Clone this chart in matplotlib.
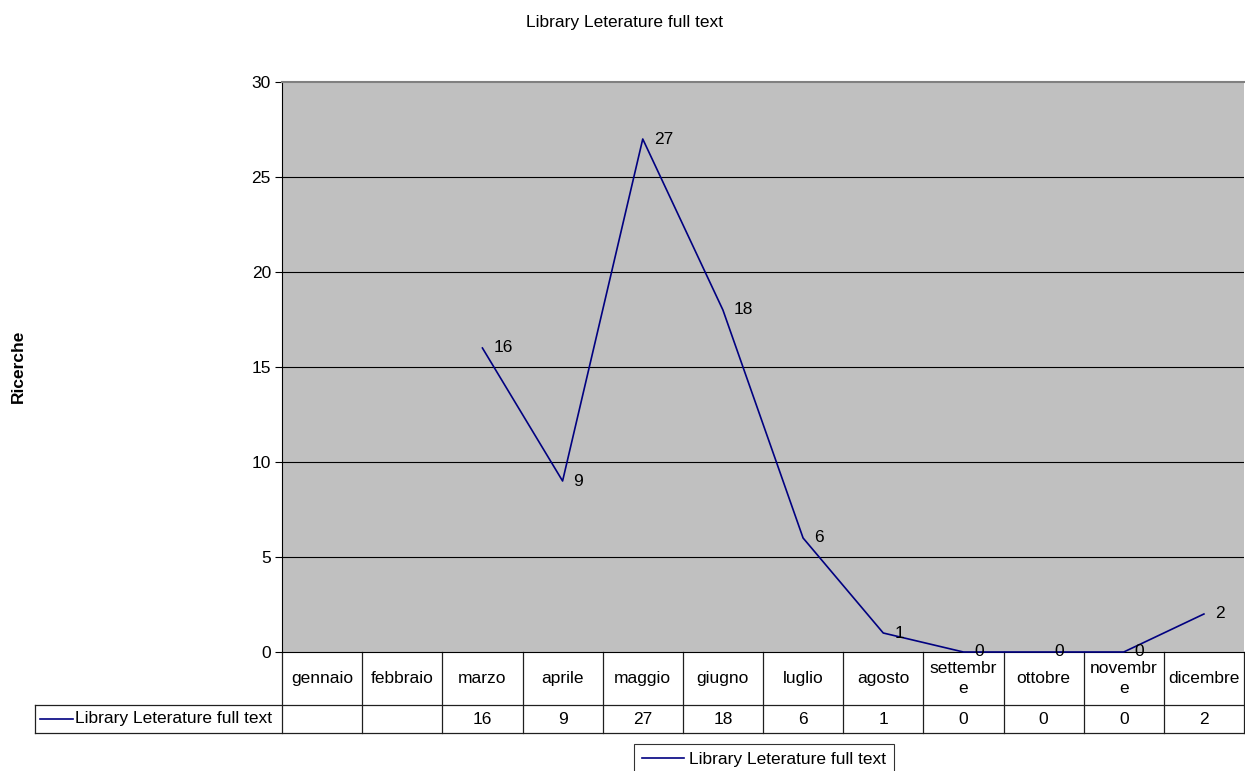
import matplotlib.pyplot as plt
import matplotlib.transforms as mtrans
from matplotlib.lines import Line2D
import numpy as np

plt.rcParams['font.family'] = ['Liberation Sans', 'DejaVu Sans']

# dati
mesi = ["gennaio", "febbraio", "marzo", "aprile", "maggio", "giugno",
        "luglio", "agosto", "settembre", "ottobre", "novembre", "dicembre"]
mesi_etichette = ["gennaio", "febbraio", "marzo", "aprile", "maggio", "giugno",
                  "luglio", "agosto", "settembr\ne", "ottobre", "novembr\ne", "dicembre"]
ricerche = [None, None, 16, 9, 27, 18, 6, 1, 0, 0, 0, 2]
serie = "Library Leterature full text"
titolo = "Library Leterature full text"
y_ticks = [0, 5, 10, 15, 20, 25, 30]

blu = "#000080"
grigio = "#C0C0C0"
fs = 12.5

fig = plt.figure(figsize=(12.45, 7.71), dpi=100)
ax = fig.add_axes([282/1245, 1-652/771, (1244-282)/1245, 570/771])
ax.set_facecolor(grigio)

x = np.arange(len(mesi))
y = np.array([np.nan if v is None else v for v in ricerche], dtype=float)
ax.plot(x, y, color=blu, lw=1.2, clip_on=False, zorder=3)

# etichette dei punti
for xi, v in zip(x, ricerche):
    if v is None:
        continue
    ax.annotate(str(v), (xi, v), xytext=(11, 0), textcoords="offset pixels",
                ha="left", va="center", fontsize=fs, annotation_clip=False, zorder=4)

ax.set_xlim(-0.5, len(mesi) - 0.5)
ax.set_ylim(0, 30)
ax.set_yticks(y_ticks)
ax.set_xticks([])
ax.tick_params(axis="y", direction="out", length=5, width=0.8, labelsize=fs, pad=3)
for yt in y_ticks[1:-1]:
    ax.axhline(yt, color="black", lw=0.8, zorder=1)
ax.spines["top"].set_color("#808080")
ax.spines["top"].set_linewidth(1.5)
ax.spines["left"].set_linewidth(0.8)
ax.spines["bottom"].set_linewidth(0.8)
ax.spines["right"].set_visible(False)

# tabella dati sotto il grafico
trans = mtrans.blended_transform_factory(ax.transData, ax.transAxes)
h1 = 53/570
h2 = 28/570
legend_left = -0.5 - (282 - 35) / ((1244 - 282) / len(mesi))
kw = dict(transform=trans, clip_on=False, color="#202020", lw=0.9)
for i in range(len(mesi) + 1):
    ax.plot([i - 0.5, i - 0.5], [0, -h1 - h2], **kw)
ax.plot([legend_left, len(mesi) - 0.5], [-h1, -h1], **kw)
ax.plot([legend_left, len(mesi) - 0.5], [-h1 - h2, -h1 - h2], **kw)
ax.plot([legend_left, legend_left], [-h1, -h1 - h2], **kw)
for i, (lab, v) in enumerate(zip(mesi_etichette, ricerche)):
    ax.text(i, -h1/2, lab, transform=trans, ha="center", va="center",
            fontsize=fs, linespacing=1.4)
    if v is not None:
        ax.text(i, -h1 - h2/2, str(v), transform=trans, ha="center",
                va="center", fontsize=fs)
ax.plot([legend_left + 0.06, legend_left + 0.48], [-h1 - h2/2] * 2,
        transform=trans, clip_on=False, color=blu, lw=1.2)
ax.text(legend_left + 0.5, -h1 - h2/2, serie, transform=trans,
        ha="left", va="center", fontsize=fs)

fig.suptitle(titolo, x=625/1245, y=1-22/771, va="center", fontsize=fs)
fig.text(18/1245, 1-366/771, "Ricerche", rotation=90, ha="center",
         va="center", fontsize=fs, fontweight="bold")

leg = fig.legend([Line2D([0], [0], color=blu, lw=1.2)], [serie],
                 loc="upper center", bbox_to_anchor=(764/1245, 1-744/771),
                 fontsize=fs, frameon=True, fancybox=False, handlelength=2.4,
                 handletextpad=0.3, borderpad=0.45, borderaxespad=0)
leg.get_frame().set_edgecolor("black")
leg.get_frame().set_linewidth(0.8)

fig.savefig("out.png", dpi=100)
